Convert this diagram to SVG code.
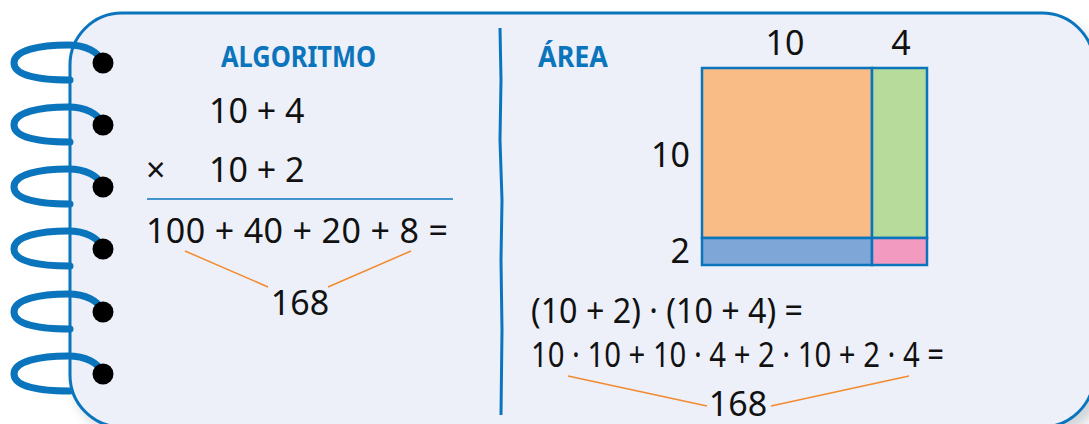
<svg xmlns="http://www.w3.org/2000/svg" width="1089" height="424" viewBox="0 0 1089 424">
<defs>
<filter id="sh" x="-10%" y="-10%" width="120%" height="130%"><feGaussianBlur stdDeviation="6"/></filter>
<style>
.t{font-family:"Noto Sans","Open Sans",sans-serif;font-size:34px;fill:#111}
.h{font-family:"Noto Sans","Open Sans",sans-serif;font-size:28px;font-weight:bold;fill:#0a74bc}
.ring{fill:none;stroke:#0a74bc;stroke-width:7;stroke-linecap:round}
.dot{fill:#000}
.or{stroke:#f28a2e;stroke-width:1.5;fill:none}
.cell{stroke:#0a74bc;stroke-width:2.5}
</style>
</defs>
<rect width="1089" height="424" fill="#fff"/>
<g id="notebook">
<rect x="74" y="22" width="1030" height="412" rx="52" fill="#9aa0aa" opacity="0.45" filter="url(#sh)"/>
<rect x="70" y="13" width="1024" height="414" rx="52" fill="#edf0f9" stroke="#0a74bc" stroke-width="3"/>
</g>
<g id="spiral">
<g id="ring1" transform="translate(0,62)"><path class="ring" d="M70 18 C40 18 14 14 14 1 C14 -12 40 -17 68 -17 C86 -17 98 -10 102 -1"/><circle class="dot" cx="103" cy="1" r="10.5"/></g>
<g id="ring2" transform="translate(0,124)"><path class="ring" d="M70 18 C40 18 14 14 14 1 C14 -12 40 -17 68 -17 C86 -17 98 -10 102 -1"/><circle class="dot" cx="103" cy="1" r="10.5"/></g>
<g id="ring3" transform="translate(0,186)"><path class="ring" d="M70 18 C40 18 14 14 14 1 C14 -12 40 -17 68 -17 C86 -17 98 -10 102 -1"/><circle class="dot" cx="103" cy="1" r="10.5"/></g>
<g id="ring4" transform="translate(0,248)"><path class="ring" d="M70 18 C40 18 14 14 14 1 C14 -12 40 -17 68 -17 C86 -17 98 -10 102 -1"/><circle class="dot" cx="103" cy="1" r="10.5"/></g>
<g id="ring5" transform="translate(0,311)"><path class="ring" d="M70 18 C40 18 14 14 14 1 C14 -12 40 -17 68 -17 C86 -17 98 -10 102 -1"/><circle class="dot" cx="103" cy="1" r="10.5"/></g>
<g id="ring6" transform="translate(0,373)"><path class="ring" d="M70 18 C40 18 14 14 14 1 C14 -12 40 -17 68 -17 C86 -17 98 -10 102 -1"/><circle class="dot" cx="103" cy="1" r="10.5"/></g>
</g>
<g id="divider"><path d="M500 28 L501 80 L500 140 L502 200 L501 260 L502 330 L501 415" fill="none" stroke="#0a74bc" stroke-width="3"/></g>
<g id="algoritmo">
<text class="h" x="221" y="67" textLength="155" lengthAdjust="spacingAndGlyphs">ALGORITMO</text>
<text class="t" x="209" y="123">10 + 4</text>
<text class="t" x="146" y="182">×</text>
<text class="t" x="209" y="182">10 + 2</text>
<line x1="147" y1="199" x2="453" y2="199" stroke="#0a74bc" stroke-width="1.5"/>
<text class="t" x="146" y="243" textLength="302">100 + 40 + 20 + 8 =</text>
<line class="or" x1="185" y1="251" x2="268" y2="287"/>
<line class="or" x1="411" y1="251" x2="328" y2="287"/>
<text class="t" x="300" y="315" text-anchor="middle">168</text>
</g>
<g id="area">
<text class="h" x="538" y="67" textLength="70" lengthAdjust="spacingAndGlyphs">ÁREA</text>
<text class="t" x="785" y="55" text-anchor="middle">10</text>
<text class="t" x="901" y="55" text-anchor="middle">4</text>
<text class="t" x="690" y="167" text-anchor="end">10</text>
<text class="t" x="690" y="263" text-anchor="end">2</text>
<rect class="cell" x="702" y="68" width="170" height="170" fill="#f9bc87"/>
<rect class="cell" x="872" y="68" width="55" height="170" fill="#b7db9a"/>
<rect class="cell" x="702" y="238" width="170" height="27" fill="#7ea7d8"/>
<rect class="cell" x="872" y="238" width="55" height="27" fill="#f39ac1"/>
</g>
<g id="expansion">
<text class="t" x="531" y="323" textLength="272" lengthAdjust="spacingAndGlyphs">(10 + 2) · (10 + 4) =</text>
<text class="t" x="531" y="367" textLength="413" lengthAdjust="spacingAndGlyphs">10 · 10 + 10 · 4 + 2 · 10 + 2 · 4 =</text>
<line class="or" x1="568" y1="376" x2="707" y2="406"/>
<line class="or" x1="909" y1="376" x2="771" y2="406"/>
<text class="t" x="738" y="416" text-anchor="middle">168</text>
</g>
</svg>
